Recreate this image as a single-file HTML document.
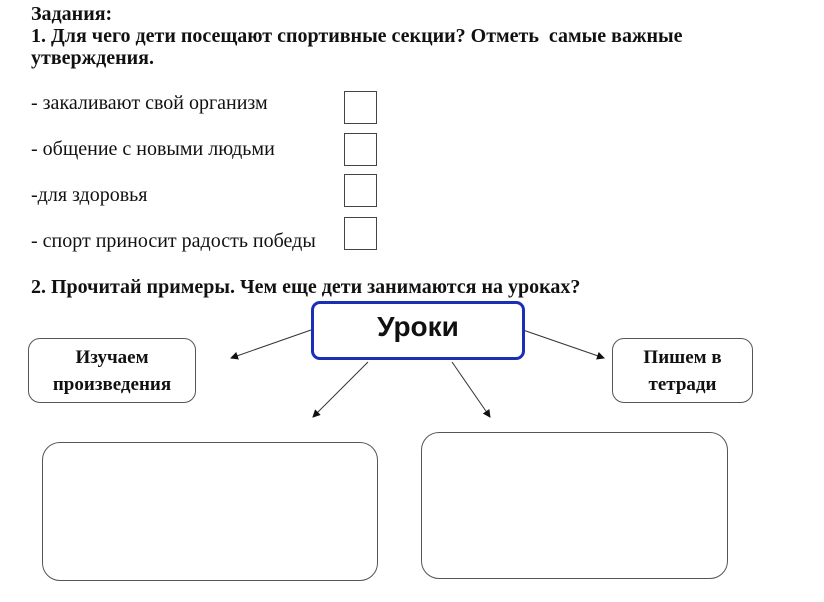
<!DOCTYPE html>
<html><head><meta charset="utf-8"><style>
body{margin:0;width:824px;height:602px;background:#fff;position:relative;overflow:hidden;font-family:"Liberation Serif",serif;color:#111}
.t{position:absolute;left:31px;font-size:20px;white-space:nowrap;line-height:22px}
.b{font-weight:bold}
.cb{position:absolute;left:344px;width:31px;height:31px;border:1.5px solid #444}
.bx{position:absolute;border:1.3px solid #555;border-radius:12px;background:#fff}
.lbl{position:absolute;font-weight:bold;font-size:19px;text-align:center;line-height:27px}
</style></head><body>
<div class="t b" style="top:3px">Задания:</div>
<div class="t b" style="top:25px">1. Для чего дети посещают спортивные секции? Отметь&nbsp; самые важные</div>
<div class="t b" style="top:47px">утверждения.</div>
<div class="t" style="top:92px">- закаливают свой организм</div>
<div class="t" style="top:138px">- общение с новыми людьми</div>
<div class="t" style="top:184px">-для здоровья</div>
<div class="t" style="top:230px">- спорт приносит радость победы</div>
<div class="cb" style="top:91px"></div>
<div class="cb" style="top:133px"></div>
<div class="cb" style="top:174px"></div>
<div class="cb" style="top:217px"></div>
<div class="t b" style="top:276px">2. Прочитай примеры. Чем еще дети занимаются на уроках?</div>
<svg width="824" height="602" style="position:absolute;left:0;top:0">
<defs><marker id="a" markerWidth="8" markerHeight="8" refX="7" refY="4" orient="auto" markerUnits="userSpaceOnUse"><path d="M0,0 L8,4 L0,8 z" fill="#111"/></marker></defs>
<g stroke="#333" stroke-width="1" marker-end="url(#a)">
<line x1="311" y1="330" x2="231" y2="358"/>
<line x1="523" y1="330" x2="604" y2="358"/>
<line x1="368" y1="362" x2="313" y2="417"/>
<line x1="452" y1="362" x2="490" y2="417"/>
</g></svg>
<div class="bx" style="left:311px;top:301px;width:208px;height:53px;border:3px solid #1a2fb5;border-radius:9px"></div>
<div style="position:absolute;left:311px;top:311px;width:214px;text-align:center;font-family:'Liberation Sans',sans-serif;font-weight:bold;font-size:28px">Уроки</div>
<div class="bx" style="left:28px;top:338px;width:166px;height:63px"></div>
<div class="lbl" style="left:28px;top:344px;width:168px">Изучаем<br>произведения</div>
<div class="bx" style="left:612px;top:338px;width:139px;height:63px"></div>
<div class="lbl" style="left:612px;top:344px;width:141px">Пишем в<br>тетради</div>
<div class="bx" style="left:42px;top:442px;width:334px;height:137px;border-radius:18px"></div>
<div class="bx" style="left:421px;top:432px;width:305px;height:145px;border-radius:18px"></div>
</body></html>
